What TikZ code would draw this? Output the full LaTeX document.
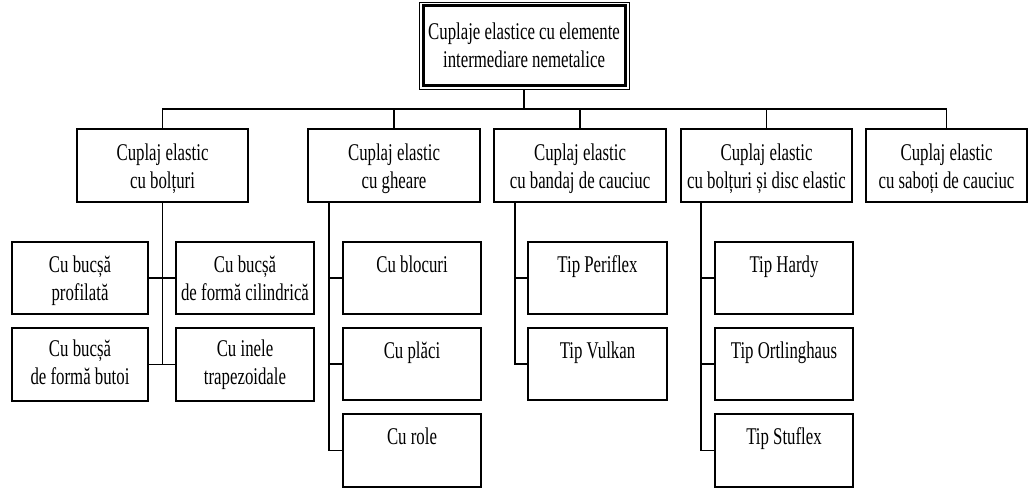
\documentclass[tikz,border=0pt]{standalone}
\usepackage{fontspec}
\setmainfont{Liberation Serif}[FakeStretch=0.70]
% box body: width, height, height of the first line, text (top aligned, centred)
\newcommand\boxcontent[4]{\parbox[t][#2][t]{#1}{\centering\rule{0pt}{#3}#4}}
\tikzset{
  box/.style={draw, line width=1.6pt, inner sep=0pt, outer sep=0pt, anchor=north west,
    font=\fontsize{24pt}{28pt}\selectfont},
  conn/.style={line width=1.6pt},
}
\begin{document}
\begin{tikzpicture}[x=1pt,y=-1pt]
\useasboundingbox (0,0) rectangle (1029,488);

% root with double frame
\node[box, line width=1pt] (top) at (419,2)
  {\boxcontent{210pt}{87pt}{37pt}{Cuplaje elastice cu elemente\\intermediare nemetalice}};
\draw[line width=3pt] ([shift={(4,3)}]top.north west) rectangle ([shift={(-4,-4)}]top.south east);

% first level
\node[box] (A) at (77,129)  {\boxcontent{171pt}{73pt}{31pt}{Cuplaj elastic\\cu bolțuri}};
\node[box] (B) at (308,129) {\boxcontent{172pt}{73pt}{31pt}{Cuplaj elastic\\cu gheare}};
\node[box] (C) at (494,129) {\boxcontent{172pt}{73pt}{31pt}{Cuplaj elastic\\cu bandaj de cauciuc}};
\node[box] (D) at (681,129) {\boxcontent{171pt}{73pt}{31pt}{Cuplaj elastic\\cu bolțuri și disc elastic}};
\node[box] (E) at (866,129) {\boxcontent{161pt}{73pt}{31pt}{Cuplaj elastic\\cu saboți de cauciuc}};

% second level
\node[box] (a1) at (12,242)  {\boxcontent{136pt}{72pt}{30pt}{Cu bucșă\\profilată}};
\node[box] (a2) at (176,242) {\boxcontent{138pt}{72pt}{30pt}{Cu bucșă\\de formă cilindrică}};
\node[box] (a3) at (12,328)  {\boxcontent{136pt}{73pt}{28pt}{Cu bucșă\\de formă butoi}};
\node[box] (a4) at (176,328) {\boxcontent{138pt}{73pt}{28pt}{Cu inele\\trapezoidale}};

\node[box] (b1) at (343,242) {\boxcontent{138pt}{72pt}{30pt}{Cu blocuri}};
\node[box] (b2) at (343,328) {\boxcontent{138pt}{72pt}{30pt}{Cu plăci}};
\node[box] (b3) at (343,414) {\boxcontent{138pt}{73pt}{30pt}{Cu role}};

\node[box] (c1) at (528,242) {\boxcontent{139pt}{72pt}{30pt}{Tip Periflex}};
\node[box] (c2) at (528,328) {\boxcontent{139pt}{72pt}{30pt}{Tip Vulkan}};

\node[box] (d1) at (715,242) {\boxcontent{138pt}{72pt}{30pt}{Tip Hardy}};
\node[box] (d2) at (715,328) {\boxcontent{138pt}{72pt}{30pt}{Tip Ortlinghaus}};
\node[box] (d3) at (715,414) {\boxcontent{138pt}{73pt}{30pt}{Tip Stuflex}};

% bus between root and first level
\coordinate (bus) at (0,109);
\draw[conn] (top.south) -- (top.south |- bus);
\draw[conn] (A.north) |- (E.north |- bus) -- (E.north);
\draw[conn] (B.north) -- (B.north |- bus);
\draw[conn] (C.north) -- (C.north |- bus);
\draw[conn] (D.north) -- (D.north |- bus);

% group A: central trunk with side branches
\draw[conn] (A.south) -- (A.south |- a3.east);
\draw[conn] (a1.east) -- (a2.west);
\draw[conn] (a3.east) -- (a4.west);

% groups B, C, D: trunk on the left side
\coordinate (tb) at ([xshift=21pt]B.south west);
\draw[conn] (tb) |- (b3.west);
\draw[conn] (b1.west) -- (b1.west -| tb);
\draw[conn] (b2.west) -- (b2.west -| tb);

\coordinate (tc) at ([xshift=21pt]C.south west);
\draw[conn] (tc) |- (c2.west);
\draw[conn] (c1.west) -- (c1.west -| tc);

\coordinate (td) at ([xshift=20pt]D.south west);
\draw[conn] (td) |- (d3.west);
\draw[conn] (d1.west) -- (d1.west -| td);
\draw[conn] (d2.west) -- (d2.west -| td);
\end{tikzpicture}
\end{document}
